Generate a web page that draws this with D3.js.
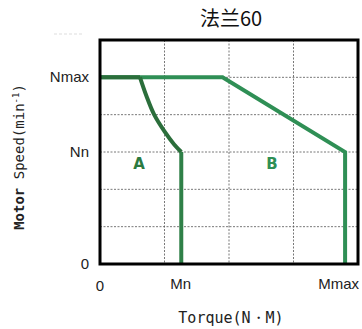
<!DOCTYPE html>
<html>
<head>
<meta charset="utf-8">
<script src="https://cdn.jsdelivr.net/npm/d3@7"></script>
<style>
  body { margin: 0; background: #fff; }
  .grid line { stroke: #555; stroke-dasharray: 2,1.5; stroke-width: 0.8; }
  .tick-lbl { font-family: "Liberation Sans Narrow", "Liberation Sans", sans-serif; font-size: 15px; fill: #222; }
</style>
</head>
<body>
<svg id="chart" width="362" height="329"></svg>
<script>
// grid divisions and labelled ticks
const xDomain = [0, 4];
const yDomain = [0, 6];
const xTicks = [{v: 0, t: "0"}, {v: 1.25, t: "Mn"}, {v: 3.7, t: "Mmax"}];
const yTicks = [{v: 0, t: "0"}, {v: 3, t: "Nn"}, {v: 5, t: "Nmax"}];

// curve A (continuous zone), curve B (intermittent zone)
const curveAFlat = [[0, 5], [0.62, 5]];
const curveABend = [[0.62, 5], [0.72, 4.5], [0.84, 4.0], [1.0, 3.55], [1.15, 3.2], [1.26, 3]];
const curveADrop = [[1.26, 3], [1.26, 0]];
const curveB = [[0, 5], [1.9, 5], [3.8, 3], [3.8, 0]];

const svg = d3.select("#chart");
const m = {left: 100, right: 358, top: 40, bottom: 264};

const x = d3.scaleLinear().domain(xDomain).range([m.left, m.right]);
const y = d3.scaleLinear().domain(yDomain).range([m.bottom, m.top]);

// faint artefact at top left
svg.append("line").attr("x1", 54).attr("x2", 84).attr("y1", 34).attr("y2", 34)
    .attr("stroke", "#ddd").attr("stroke-dasharray", "3,2");

// title
svg.append("text").attr("x", 231).attr("y", 26).attr("text-anchor", "middle")
    .style("font-family", "'Noto Sans CJK SC', sans-serif").style("font-size", "20px")
    .attr("fill", "#111").text("法兰60");

// grid
let grid = svg.append("g").attr("class", "grid");
grid.selectAll(".gx").data(d3.range(1, 4)).enter().append("line")
    .attr("x1", d => x(d)).attr("x2", d => x(d)).attr("y1", m.top).attr("y2", m.bottom);
grid.selectAll(".gy").data(d3.range(1, 6)).enter().append("line")
    .attr("y1", d => y(d)).attr("y2", d => y(d)).attr("x1", m.left).attr("x2", m.right);

// curves
let line = d3.line().x(d => x(d[0])).y(d => y(d[1]));
let smooth = d3.line().x(d => x(d[0])).y(d => y(d[1])).curve(d3.curveCatmullRom);
svg.append("path").datum(curveB).attr("d", line)
    .attr("fill", "none").attr("stroke", "#2f8f55").attr("stroke-width", 4);
svg.append("path").datum(curveAFlat).attr("d", line)
    .attr("fill", "none").attr("stroke", "#2b6e3b").attr("stroke-width", 4);
svg.append("path").datum(curveABend).attr("d", smooth)
    .attr("fill", "none").attr("stroke", "#2b6e3b").attr("stroke-width", 4);
svg.append("path").datum(curveADrop).attr("d", line)
    .attr("fill", "none").attr("stroke", "#2f8048").attr("stroke-width", 4);

// frame
svg.append("rect").attr("x", m.left).attr("y", m.top)
    .attr("width", m.right - m.left).attr("height", m.bottom - m.top)
    .attr("fill", "none").attr("stroke", "#000").attr("stroke-width", 3);

// zone labels
svg.append("text").attr("x", 139).attr("y", 169).attr("text-anchor", "middle")
    .style("font-family", "'DejaVu Sans'").style("font-weight", "bold").style("font-size", "15px")
    .attr("fill", "#2b7a40").text("A");
svg.append("text").attr("x", 272).attr("y", 169).attr("text-anchor", "middle")
    .style("font-family", "'DejaVu Sans'").style("font-weight", "bold").style("font-size", "15px")
    .attr("fill", "#2f8f55").text("B");

// y tick labels
svg.selectAll(".yl").data(yTicks).enter().append("text").attr("class", "tick-lbl")
    .attr("x", 89).attr("y", d => y(d.v) + 5).attr("text-anchor", "end").text(d => d.t);

// x tick labels
svg.selectAll(".xl").data(xTicks).enter().append("text").attr("class", "tick-lbl")
    .attr("x", d => x(d.v)).attr("y", d => d.v === 0 ? 291 : 289)
    .attr("text-anchor", "middle").text(d => d.t);

// axis titles
svg.append("text").attr("x", 231).attr("y", 323).attr("text-anchor", "middle")
    .style("font-family", "'DejaVu Sans Mono'").style("font-size", "15px").attr("fill", "#222")
    .text("Torque(N・M)");
svg.append("text").attr("transform", "translate(24,157) rotate(-90)").attr("text-anchor", "middle")
    .style("font-family", "'DejaVu Sans Mono'").style("font-size", "14px").attr("fill", "#222")
    .html('<tspan font-weight="bold">Motor</tspan> Speed(min<tspan dy="-5" font-size="9">-1</tspan><tspan dy="5">)</tspan>');
</script>
</body>
</html>
